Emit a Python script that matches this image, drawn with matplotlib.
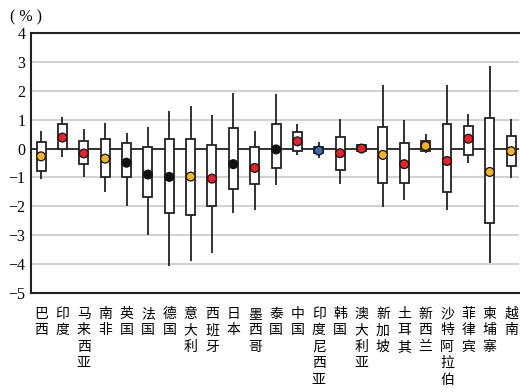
import matplotlib.pyplot as plt
import numpy as np

countries = ['巴西', '印度', '马来西亚', '南非', '英国', '法国', '德国', '意大利', '西班牙',
             '日本', '墨西哥', '泰国', '中国', '印度尼西亚', '韩国', '澳大利亚', '新加坡',
             '土耳其', '新西兰', '沙特阿拉伯', '菲律宾', '柬埔寨', '越南']
whisker_high = [0.62, 1.09, 0.69, 0.90, 0.55, 0.76, 1.31, 1.46, 1.16, 1.92, 0.61, 1.88,
                0.84, 0.21, 1.02, 0.14, 2.20, 1.00, 0.50, 2.20, 1.20, 2.87, 1.03]
box_high = [0.22, 0.84, 0.25, 0.32, 0.18, 0.07, 0.32, 0.32, 0.12, 0.72, 0.06, 0.84,
            0.58, 0.06, 0.39, 0.12, 0.73, 0.18, 0.25, 0.84, 0.79, 1.05, 0.45]
box_low = [-0.76, 0.00, -0.53, -1.00, -1.00, -1.66, -2.23, -2.30, -1.98, -1.39, -1.24, -0.67,
           -0.08, -0.16, -0.74, -0.10, -1.20, -1.20, -0.10, -1.52, -0.21, -2.57, -0.60]
whisker_low = [-1.06, -0.28, -1.00, -1.49, -2.00, -2.98, -4.05, -3.90, -3.63, -2.23, -2.11, -1.25,
               -0.24, -0.34, -1.24, -0.12, -2.02, -1.77, -0.16, -2.11, -0.49, -3.95, -1.02]
current = [-0.27, 0.38, -0.17, -0.35, -0.49, -0.90, -0.98, -0.97, -1.04, -0.54, -0.67, -0.03,
           0.25, -0.07, -0.16, 0.00, -0.22, -0.54, 0.09, -0.43, 0.34, -0.81, -0.09]
dot_kind = ['o', 'r', 'r', 'o', 'k', 'k', 'k', 'o', 'r', 'k', 'r', 'k',
            'r', 'b', 'r', 'r', 'o', 'r', 'o', 'r', 'r', 'o', 'o']
palette = {'o': '#f5b324', 'r': '#e8222a', 'k': '#111111', 'b': '#3a6cb5'}

plt.rcParams['font.family'] = ['Liberation Serif', 'Noto Sans CJK SC']

fig = plt.figure(figsize=(5.2, 3.92), dpi=100)
ax = fig.add_axes([31 / 520, 1 - 293 / 392, 488 / 520, 260 / 392])

x = np.arange(len(countries))

# 网格线
for y in range(-4, 4):
    if y == 0:
        continue
    ax.axhline(y, color='#d2d2d2', lw=1.5, zorder=0)
ax.axhline(0, color='#222222', lw=1.3, zorder=1)

ax.vlines(x, whisker_low, whisker_high, color='#222222', lw=1.3, zorder=2)
ax.bar(x, np.array(box_high) - np.array(box_low), bottom=box_low, width=0.42,
       color='white', edgecolor='#222222', linewidth=1.3, zorder=3)
ax.scatter(x, current, s=40, c=[palette[k] for k in dot_kind],
           edgecolors='#111111', linewidths=0.9, zorder=4)

ax.set_ylim(-5, 4)
ax.set_xlim(-0.47, 22.37)
ax.set_yticks(range(-5, 5))
ax.set_yticklabels([str(v).replace('-', '\u2212') for v in range(-5, 5)], fontsize=11.5,
                   family=['Liberation Serif', 'DejaVu Serif'])
ax.set_xticks(x)
ax.set_xticklabels(['\n'.join(c) for c in countries], fontsize=10,
                   family=['Noto Sans CJK SC'], linespacing=1.22, va='top')
ax.tick_params(axis='both', length=0, pad=4)
ax.tick_params(axis='x', pad=10)

ax.spines['right'].set_visible(False)
for s in ['left', 'top', 'bottom']:
    ax.spines[s].set_color('#222222')
    ax.spines[s].set_linewidth(1.5)

fig.text(10 / 520, 1 - 17 / 392, '( % )', fontsize=11.5, va='center', ha='left',
         family=['Liberation Serif', 'DejaVu Serif'])

fig.savefig('out.png', dpi=100)
